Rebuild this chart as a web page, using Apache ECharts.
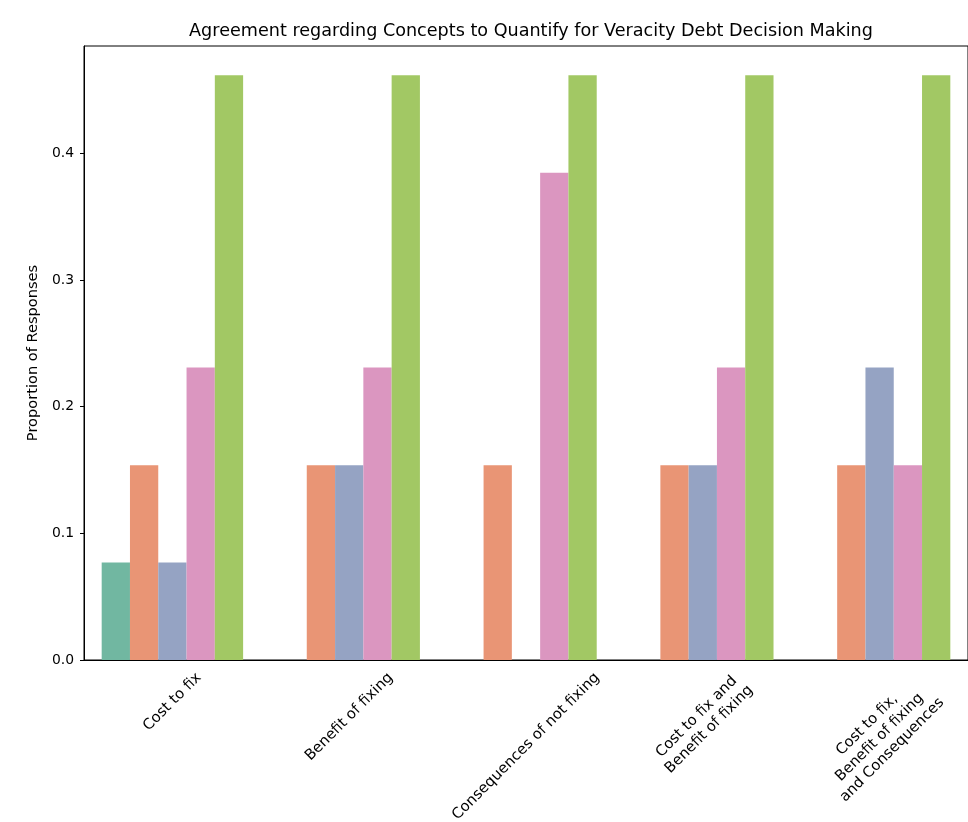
<!DOCTYPE html>
<html>
<head>
<meta charset="utf-8">
<script src="https://cdn.jsdelivr.net/npm/echarts@6/dist/echarts.min.js"></script>
<style>html,body{margin:0;padding:0;background:#fff}#c{width:968px;height:822px}</style>
</head>
<body>
<div id="c"></div>
<script>
const categories = ['Cost to fix', 'Benefit of fixing', 'Consequences of not fixing', 'Cost to fix and\nBenefit of fixing', 'Cost to fix,\nBenefit of fixing\nand Consequences'];
const seriesNames = ['Strongly disagree', 'Disagree', 'Neutral', 'Agree', 'Strongly agree'];
const s1 = [0.0769, 0, 0, 0, 0];
const s2 = [0.1538, 0.1538, 0.1538, 0.1538, 0.1538];
const s3 = [0.0769, 0.1538, 0, 0.1538, 0.2308];
const s4 = [0.2308, 0.2308, 0.3846, 0.2308, 0.1538];
const s5 = [0.4615, 0.4615, 0.4615, 0.4615, 0.4615];
const yTicks = [0, 0.1, 0.2, 0.3, 0.4];
const colors = ['#71b7a1', '#e99575', '#95a3c3', '#db96c0', '#a2c864'];
const allSeries = [s1, s2, s3, s4, s5];

const FONT = 'DejaVu Sans';
const chart = echarts.init(document.getElementById('c'), null, {renderer: 'canvas'});
const option = {
  animation: false,
  backgroundColor: '#fff',
  title: {
    text: 'Agreement regarding Concepts to Quantify for Veracity Debt Decision Making',
    left: 526, textAlign: 'center', top: 17,
    textStyle: {fontFamily: FONT, fontSize: 17.6, fontWeight: 'normal', color: '#000'}
  },
  grid: {left: 84, top: 46, width: 885, height: 614, show: true, borderColor: '#000', borderWidth: 1, backgroundColor: 'transparent'},
  xAxis: {
    type: 'category', data: categories,
    axisLine: {lineStyle: {color: '#000', width: 1}},
    axisTick: {alignWithLabel: true, length: 4, lineStyle: {color: '#000'}},
    axisLabel: {show: false},
    splitLine: {show: false}
  },
  yAxis: {
    type: 'value', min: 0, max: 0.4846,
    name: 'Proportion of Responses', nameLocation: 'middle', nameGap: 42, nameRotate: 90,
    nameTextStyle: {fontFamily: FONT, fontSize: 14.6, color: '#000'},
    axisLine: {show: true, lineStyle: {color: '#000', width: 1}},
    axisTick: {show: true, length: 4, lineStyle: {color: '#000'}, customValues: yTicks},
    axisLabel: {fontFamily: FONT, fontSize: 13.9, color: '#000', margin: 10, customValues: yTicks,
      formatter: v => v.toFixed(1)},
    splitLine: {show: false}
  },
  series: allSeries.map((d, i) => ({
    name: seriesNames[i], type: 'bar', data: d,
    barGap: '0%', barCategoryGap: '20%',
    itemStyle: {color: colors[i]}
  }))
};
chart.setOption(option);

// Rotated x labels, matplotlib style (rotation 45, centred under tick)
const cv = document.createElement('canvas').getContext('2d');
const fs = 14.8, lh = fs * 1.2;
cv.font = fs + 'px "' + FONT + '"';
const axisY = chart.convertToPixel({yAxisIndex: 0}, 0);
const graphics = categories.map((cat, i) => {
  const x = chart.convertToPixel({xAxisIndex: 0}, i);
  const lines = cat.split('\n');
  const w = Math.max(...lines.map(l => cv.measureText(l).width));
  const h = lines.length * lh;
  const half = (w + h) / (2 * Math.SQRT2);
  return {
    type: 'text', x: x, y: axisY + 9 + half, rotation: Math.PI / 4,
    style: {text: cat, font: fs + 'px "' + FONT + '"', fill: '#000', align: 'center', verticalAlign: 'middle', lineHeight: lh}
  };
});
chart.setOption({graphic: graphics});
</script>
</body>
</html>
